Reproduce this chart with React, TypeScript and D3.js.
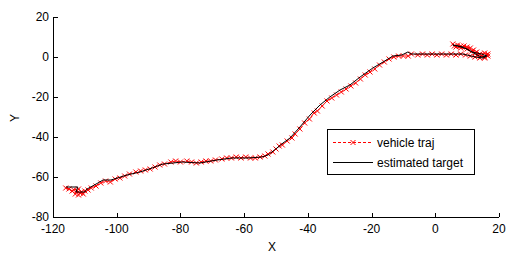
import React from "react";
import * as d3 from "d3";

const xTicks = [-120, -100, -80, -60, -40, -20, 0, 20];
const yTicks = [-80, -60, -40, -20, 0, 20];
const seriesNames = ["vehicle traj", "estimated target"];

const estimatedX = [-115.9,-112.2,-112.8,-110.0,-109.3,-105.9,-104.3,-101.8,-96.8,-92.7,-88.9,-85.5,-82.3,-79.5,-73.9,-68.5,-63.8,-58.8,-54.4,-52.5,-49.7,-47.8,-45.6,-42.5,-39.3,-36.2,-33.1,-29.9,-26.8,-23.6,-19.6,-16.4,-13.3,-10.5,-8.6,-7.6,-4.8,0,5,8.7,12.5,15,16.2,14.5,11.5,8.7,5.5,7,10,12.5,14.5,16];
const estimatedY = [-65,-65,-67.5,-67.5,-66,-63,-61.5,-61.5,-59,-57.5,-55.5,-53.5,-53,-52.5,-53,-51.5,-50.5,-50.5,-50,-49,-45.5,-43,-40.5,-35,-29,-24,-20,-16.5,-14,-10,-5.5,-2.5,0.5,1,2.5,1.5,1.5,1.5,1.5,1.5,0,-0.5,0.5,1.5,2.5,5,6,5.5,4,1.5,0,0.5];

const vehicleX = [-116,-115,-114,-113,-112.5,-112,-111.5,-111,-112,-113.5,-110.5,-110,-109,-108,-106.5,-105,-103.5,-102,-100.5,-99,-97.5,-96,-94,-92.5,-91,-89.5,-88,-86.5,-85,-83,-81.5,-80,-78,-76.5,-75,-73.5,-72,-70.5,-69,-67,-65.5,-64,-62.5,-61,-59.5,-58,-56.5,-55,-53.5,-52.5,-51,-50,-49,-48,-46.5,-45,-44,-42.5,-41,-39.5,-38,-37,-35.5,-34,-32.5,-31,-29.5,-28,-26.5,-25,-23.5,-22,-20.5,-19,-17.5,-16,-14.5,-13,-11.5,-10,-8.5,-7.5,-5.5,-4,-2.5,-1,0.5,2,3.5,5,6.5,8,9.5,11,12.5,14,15.5,16.5,15.5,14,13,12,11,10,9,8,7,6,5.5,6.5,8,10,11.5,12.5,13.5,14.5,15.5,16,16.5];
const vehicleY = [-65.5,-66,-67,-68.5,-67,-69,-68,-67.5,-66,-66.5,-68.5,-67,-66.5,-65.5,-64.5,-63,-62,-62.5,-61,-60.5,-59.5,-58.5,-57.5,-57,-56.5,-56,-55,-54,-53.5,-52.5,-52,-52.5,-52,-52.5,-53,-52.5,-52,-52,-51.5,-51,-50.5,-50.5,-50,-50.5,-50,-50.5,-50.5,-50,-49.5,-48.5,-47.5,-46,-44.5,-44,-42,-40.5,-38.5,-36,-33,-31,-28,-27,-24.5,-22,-20.5,-19,-17.5,-16,-14.5,-13,-11,-9,-7.5,-6,-4,-2.5,-1,0,0.5,0.5,0.5,1.5,1,1.5,1,1.5,1,1.5,1,1.5,1,1.5,1,0.5,0,-0.5,0,1.5,2,1.5,2.5,3.5,4.5,5,5.5,5.5,6,5.5,6.5,5,4.5,4,3,2,1,0.5,-0.5,1,0.5];

export default function App() {
  const W = 513, H = 257;
  const left = 53, right = 499, top = 17, bottom = 217;
  const x = d3.scaleLinear().domain([-120, 20]).range([left, right]);
  const y = d3.scaleLinear().domain([-80, 20]).range([bottom, top]);
  const line = d3.line<number>().x((i) => x(estimatedX[i])).y((i) => y(estimatedY[i]));
  const vline = d3.line<number>().x((i) => x(vehicleX[i])).y((i) => y(vehicleY[i]));
  const font = "Liberation Sans, Arial, Helvetica, sans-serif";
  const m = 2.5;
  const cross = (cx: number, cy: number, k: string) => (
    <path key={k} d={`M${cx - m},${cy - m}L${cx + m},${cy + m}M${cx - m},${cy + m}L${cx + m},${cy - m}`} stroke="#ff0000" strokeWidth={1} fill="none" />
  );
  return (
    <svg width={W} height={H} style={{ position: "absolute", left: 0, top: 0, background: "#fff" }} fontFamily={font}>
      <rect width={W} height={H} fill="#fff" />
      <path d={vline(d3.range(vehicleX.length)) || ""} fill="none" stroke="#ff0000" strokeWidth={1} strokeDasharray="3,2" />
      {vehicleX.map((v, i) => cross(x(v), y(vehicleY[i]), "m" + i))}
      <path d={line(d3.range(estimatedX.length)) || ""} fill="none" stroke="#000" strokeWidth={1} />
      <g shapeRendering="crispEdges" stroke="#000">
        <line x1={left} x2={right} y1={bottom + 0.5} y2={bottom + 0.5} />
        <line x1={left + 0.5} x2={left + 0.5} y1={top} y2={bottom} />
        {xTicks.map((t) => (
          <line key={"xt" + t} x1={Math.round(x(t)) + 0.5} x2={Math.round(x(t)) + 0.5} y1={bottom} y2={bottom - 4} />
        ))}
        {yTicks.map((t) => (
          <line key={"yt" + t} x1={left} x2={left + 5} y1={Math.round(y(t)) + 0.5} y2={Math.round(y(t)) + 0.5} />
        ))}
      </g>
      {xTicks.map((t) => (
        <text key={"xl" + t} x={x(t)} y={bottom + 16} fontSize={12} textAnchor="middle">{t}</text>
      ))}
      {yTicks.map((t) => (
        <text key={"yl" + t} x={left - 4} y={y(t) + 4} fontSize={12} textAnchor="end">{t}</text>
      ))}
      <text x={272} y={251} fontSize={12} textAnchor="middle">X</text>
      <text x={0} y={0} fontSize={12} textAnchor="middle" transform="translate(19,118) rotate(-90)">Y</text>
      <g>
        <rect x={327.5} y={129.5} width={147} height={45} fill="#fff" stroke="#000" shapeRendering="crispEdges" />
        <line x1={333} x2={373} y1={142.5} y2={142.5} stroke="#ff0000" strokeDasharray="3,2" />
        {cross(353, 142.5, "lg")}
        <text x={377} y={146.5} fontSize={12}>{seriesNames[0]}</text>
        <line x1={333} x2={373} y1={162.5} y2={162.5} stroke="#000" />
        <text x={377} y={166.5} fontSize={12}>{seriesNames[1]}</text>
      </g>
    </svg>
  );
}
